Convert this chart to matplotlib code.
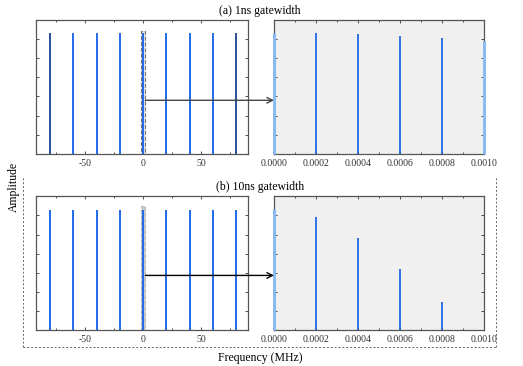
import matplotlib
matplotlib.use("Agg")
import matplotlib.pyplot as plt
from matplotlib.patches import Rectangle, ConnectionPatch
from matplotlib.ticker import MultipleLocator, FormatStrFormatter
from matplotlib.lines import Line2D

plt.rcParams['font.family'] = ['Liberation Serif', 'DejaVu Serif']
plt.rcParams['axes.unicode_minus'] = False

# comb lines, full span (MHz)
comb_f = [-80, -60, -40, -20, 0, 20, 40, 60, 80]
comb_a_1ns = [6.3, 6.3, 6.3, 6.3, 6.3, 6.3, 6.3, 6.3, 6.3]
comb_a_10ns = [6.3, 6.3, 6.3, 6.3, 6.3, 6.3, 6.3, 6.3, 6.3]

# zoom around 0 MHz
zoom_f = [0.0, 0.0002, 0.0004, 0.0006, 0.0008, 0.0010]
zoom_a_1ns = [6.31, 6.29, 6.24, 6.15, 6.03, 5.89]
zoom_a_10ns = [6.35, 5.94, 4.81, 3.20, 1.50, 0.0]

titles = ['(a) 1ns gatewidth', '(b) 10ns gatewidth']

blue = '#1f6ae6'
light = '#8cbaf0'
edge = '#555555'

fig = plt.figure(figsize=(5.23, 3.66), dpi=100)

def style(ax, major, minor, fmt=None):
    ax.set_ylim(0, 7)
    ax.yaxis.set_major_locator(MultipleLocator(1))
    ax.xaxis.set_major_locator(MultipleLocator(major))
    ax.xaxis.set_minor_locator(MultipleLocator(minor))
    ax.tick_params(which='both', direction='in', top=True, right=True,
                   labelsize=7, colors='#333333', length=2.5, width=0.6)
    ax.tick_params(which='minor', length=1.5)
    ax.tick_params(axis='y', labelleft=False)
    for s in ax.spines.values():
        s.set_color(edge)
        s.set_linewidth(0.9)
    if fmt:
        ax.xaxis.set_major_formatter(fmt)

rows = [(0.5792, comb_a_1ns, zoom_a_1ns), (0.0970, comb_a_10ns, zoom_a_10ns)]
for i, (bot, camp, zamp) in enumerate(rows):
    axl = fig.add_axes([0.0688, bot, 0.405, 0.367])
    axr = fig.add_axes([0.5239, bot, 0.4015, 0.367])
    axl.set_xlim(-92, 90)
    axr.set_xlim(0, 0.001)
    axr.set_facecolor('#f0f0f0')

    # highlighted region around 0
    if i == 0:
        axl.add_patch(Rectangle((-2, 0), 4, 6.43, facecolor='#e4e4e4',
                                edgecolor='#777777', ls='--', lw=0.8, zorder=1))
    else:
        axl.add_patch(Rectangle((-2, 0), 4, 6.48, facecolor='#c8c8c8',
                                edgecolor='#bbbbbb', ls='--', lw=0.8, zorder=1))

    for f, a in zip(comb_f, camp):
        c = blue
        if i == 0 and abs(f) == 80:
            c = '#2a4f9a'
        axl.vlines(f, 0, a, color=c, lw=1.4, zorder=2)

    for f, a in zip(zoom_f, zamp):
        if a <= 0:
            continue
        if f == 0.0 or f == 0.001:
            axr.vlines(f, 0, a, color=light, lw=2.2, zorder=3, clip_on=False)
        else:
            axr.vlines(f, 0, a, color=blue, lw=1.3, zorder=2)
    if i == 1:
        axr.spines['right'].set_color('#999999')
        axr.spines['right'].set_linewidth(2)

    style(axl, 50, 25)
    style(axr, 0.0002, 0.0001, FormatStrFormatter('%.4f'))

    yarrow = 2.8 if i == 0 else 2.87
    con = ConnectionPatch(xyA=(2, yarrow), coordsA=axl.transData,
                          xyB=(0, yarrow), coordsB=axr.transData,
                          arrowstyle='->', color='#444444' if i == 0 else 'black',
                          lw=1.0, zorder=5)
    fig.add_artist(con)

fig.text(0.497, 1 - 11 / 366, titles[0], ha='center', va='center', fontsize=8.5)
fig.text(0.497, 1 - 187 / 366, titles[1], ha='center', va='center', fontsize=8.5)
fig.text(0.026, 0.49, 'Amplitude', rotation=90, ha='center', va='center', fontsize=8.5)
fig.text(0.497, 1 - 358 / 366, 'Frequency (MHz)', ha='center', va='center', fontsize=8.5)

# dashed frame around the lower row
x0, x1 = 23 / 523, 496 / 523
y0, y1 = 1 - 347 / 366, 1 - 176 / 366
for xs, ys in [([x0, x0], [y0, y1]), ([x1, x1], [y0, y1]), ([x0, x1], [y0, y0])]:
    fig.add_artist(Line2D(xs, ys, transform=fig.transFigure, color='#666666',
                          ls=(0, (2, 2)), lw=0.7))

fig.savefig('out.png', dpi=100)
